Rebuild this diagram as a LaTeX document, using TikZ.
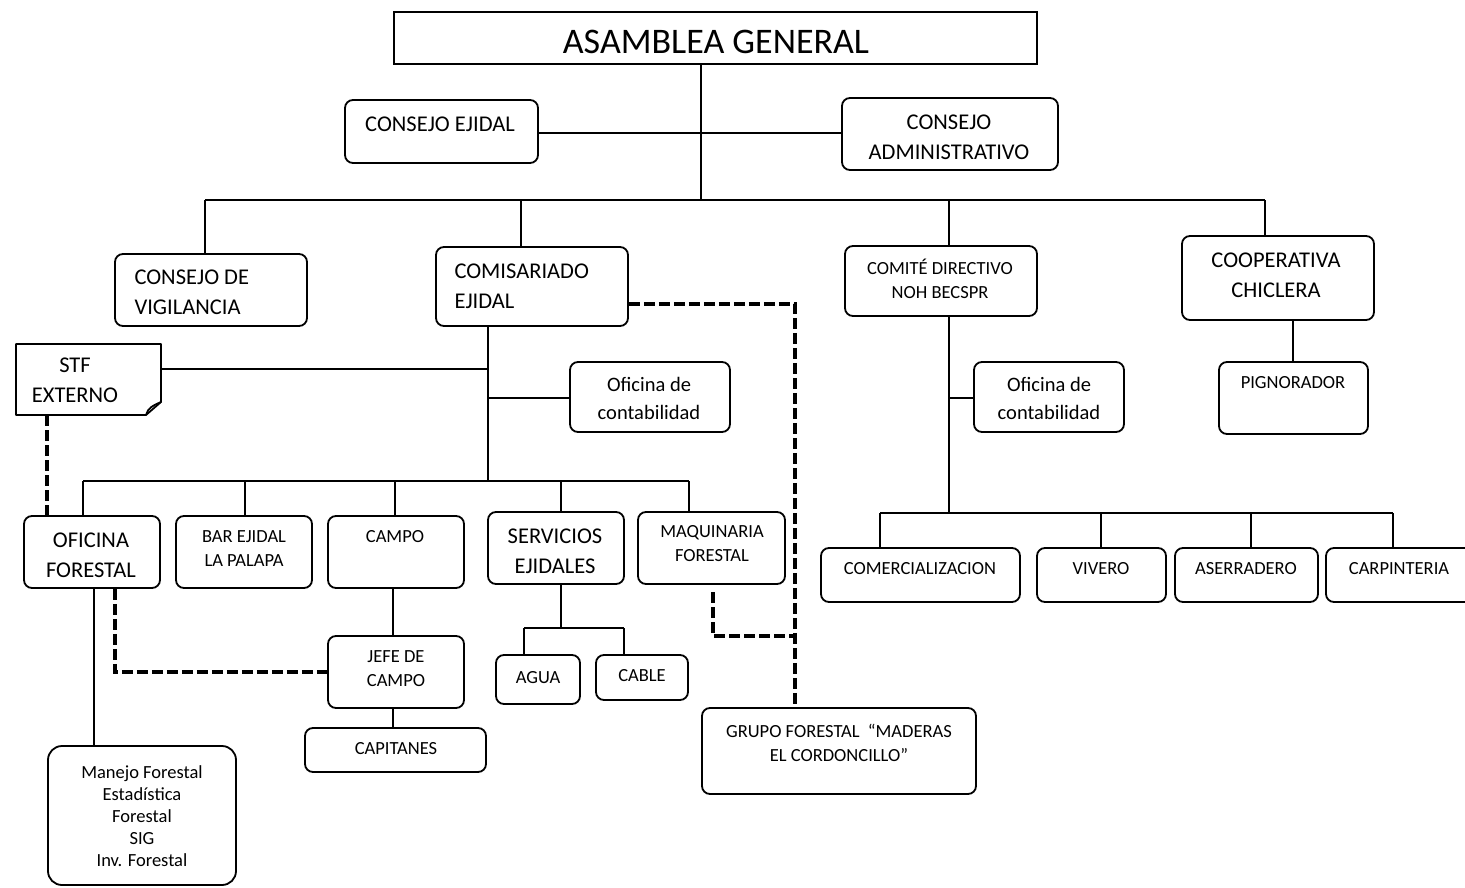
\documentclass[tikz,border=0pt]{standalone}
\usepackage{fontspec}
\setmainfont{Carlito}
\usetikzlibrary{fit}
\begin{document}
\begin{tikzpicture}[x=1pt,y=-1pt,
  box/.style={draw, line width=1.8pt, rounded corners=8pt, inner sep=0pt},
  sqbox/.style={draw, line width=1.8pt, inner sep=0pt},
  ln/.style={line width=1.8pt},
  dsh/.style={line width=3.4pt, dash pattern=on 11pt off 4pt},
  big/.style={font=\fontsize{36}{40}\selectfont},
  med/.style={font=\fontsize{22.5}{30}\selectfont, align=center},
  sml/.style={font=\fontsize{18.5}{24}\selectfont, align=center},
  ofi/.style={font=\fontsize{20.5}{28}\selectfont, align=center},
  tiny/.style={font=\fontsize{18.5}{22}\selectfont, align=center}]
\useasboundingbox (0,0) rectangle (1465,888);
\fill[white] (0,0) rectangle (1465,888);

% ---------- boxes ----------
\node[sqbox, fit={(394,12) (1037,64)}] (ag) {};
\node[box, fit={(345,100) (538,163)}] (ce) {};
\node[box, fit={(842,98) (1058,170)}] (ca) {};
\node[box, fit={(115,254) (307,326)}] (cv) {};
\node[box, fit={(436,247) (628,326)}] (com) {};
\node[box, fit={(845,246) (1037,316)}] (cd) {};
\node[box, fit={(1182,236) (1374,320)}] (cop) {};
\node[inner sep=0pt, fit={(16,344) (161,415)}] (stf) {};
\draw[ln, line join=round] (16,344) -- (161,344) -- (161,402) -- (146,415) -- (16,415) -- cycle;
\draw[ln] (146,415) .. controls (148,408) and (152,406) .. (161,402);
\node[box, fit={(570,362) (730,432)}] (oc1) {};
\node[box, fit={(24,516) (160,588)}] (of) {};
\node[box, fit={(176,516) (312,588)}] (bar) {};
\node[box, fit={(328,516) (464,588)}] (cam) {};
\node[box, fit={(488,512) (624,584)}] (ser) {};
\node[box, fit={(638,512) (785,584)}] (maq) {};
\node[box, fit={(328,636) (464,708)}] (jefe) {};
\node[box, fit={(305,728) (486,772)}] (cap) {};
\node[box, fit={(496,655) (580,704)}] (agua) {};
\node[box, fit={(596,655) (688,700)}] (cab) {};
\node[box, rounded corners=14pt, fit={(48,746) (236,885)}] (man) {};
\node[box, fit={(702,708) (976,794)}] (gf) {};
\node[box, fit={(974,362) (1124,432)}] (oc2) {};
\node[box, fit={(1219,362) (1368,434)}] (pig) {};
\node[box, fit={(821,548) (1020,602)}] (comr) {};
\node[box, fit={(1037,548) (1166,602)}] (viv) {};
\node[box, fit={(1175,548) (1318,602)}] (ase) {};
\node[box, fit={(1326,548) (1480,602)}] (car) {};

% ---------- texts ----------
\node[big] (agT) at (716,42) {ASAMBLEA GENERAL};
\node[med] (ceT) at (440,124) {CONSEJO EJIDAL};
\node[med] (caT) at (949,137) {CONSEJO\\ADMINISTRATIVO};
\node[med, align=left, anchor=west] (cvT) at (131,292) {CONSEJO DE\\VIGILANCIA};
\node[med, align=left, anchor=west] (comT) at (451,286) {COMISARIADO\\EJIDAL};
\node[sml] (cdT) at (940,279) {COMITÉ DIRECTIVO\\NOH BECSPR};
\node[med] (copT) at (1276,275) {COOPERATIVA\\CHICLERA};
\node[med] (stfT) at (75,380) {STF\\EXTERNO};
\node[ofi] (oc1T) at (649,398) {Oficina de\\contabilidad};
\node[med] (ofT) at (91,555) {OFICINA\\FORESTAL};
\node[sml] (barT) at (244,549) {BAR EJIDAL\\LA PALAPA};
\node[sml] (camT) at (395,537) {CAMPO};
\node[med] (serT) at (555,551) {SERVICIOS\\EJIDALES};
\node[sml] (maqT) at (712,544) {MAQUINARIA\\FORESTAL};
\node[sml] (jefeT) at (396,669) {JEFE DE\\CAMPO};
\node[sml] (capT) at (396,749) {CAPITANES};
\node[sml] (aguaT) at (538,678) {AGUA};
\node[sml] (cabT) at (642,676) {CABLE};
\node[tiny] (manT) at (142,816) {Manejo Forestal\\Estadística\\Forestal\\SIG\\Inv. Forestal};
\node[sml] (gfT) at (839,743) {GRUPO FORESTAL \ “MADERAS\\EL CORDONCILLO”};
\node[ofi] (oc2T) at (1049,398) {Oficina de\\contabilidad};
\node[sml] (pigT) at (1293,383) {PIGNORADOR};
\node[sml] (comrT) at (920,569) {COMERCIALIZACION};
\node[sml] (vivT) at (1101,569) {VIVERO};
\node[sml] (aseT) at (1246,569) {ASERRADERO};
\node[sml] (carT) at (1399,569) {CARPINTERIA};

% ---------- coordinates ----------
\coordinate (x1) at (701,200);
\coordinate (b1L) at (205,200);
\coordinate (b1R) at (1265,200);
\coordinate (xCom) at (521,200);
\coordinate (xCd) at (949,200);
\coordinate (t2) at (488,481);
\coordinate (b2L) at (83,481);
\coordinate (b2R) at (689,481);
\coordinate (xBar) at (245,481);
\coordinate (xCam) at (395,481);
\coordinate (xSer) at (561,481);
\coordinate (yStf) at (488,369);
\coordinate (yOc1) at (488,398);
\coordinate (b3) at (561,628);
\coordinate (b3L) at (524,628);
\coordinate (b3R) at (624,628);
\coordinate (xJ) at (393,600);
\coordinate (t4) at (949,513);
\coordinate (b4L) at (880,513);
\coordinate (b4R) at (1393,513);
\coordinate (xViv) at (1101,513);
\coordinate (xAse) at (1251,513);
\coordinate (yOc2) at (949,398);
\coordinate (xPig) at (1293,340);
\coordinate (xMan) at (94,600);
\coordinate (dStf) at (47,430);
\coordinate (dOf) at (115,600);
\coordinate (dJ) at (115,672);
\coordinate (dC1) at (795,304);
\coordinate (dC2) at (795,636);
\coordinate (dM1) at (713,592);
\coordinate (dM2) at (713,636);

% ---------- solid connectors ----------
\draw[ln] (x1 |- ag.south) -- (x1);
\draw[ln] (ce.east |- 0,133) -- (ca.west |- 0,133);
\draw[ln] (b1L) -- (b1R);
\draw[ln] (b1L) -- (b1L |- cv.north);
\draw[ln] (xCom) -- (xCom |- com.north);
\draw[ln] (xCd) -- (xCd |- cd.north);
\draw[ln] (b1R) -- (b1R |- cop.north);
\draw[ln] (t2 |- com.south) -- (t2);
\draw[ln] (stf.east |- yStf) -- (yStf);
\draw[ln] (yOc1) -- (yOc1 -| oc1.west);
\draw[ln] (b2L) -- (b2R);
\draw[ln] (b2L) -- (b2L |- of.north);
\draw[ln] (xBar) -- (xBar |- bar.north);
\draw[ln] (xCam) -- (xCam |- cam.north);
\draw[ln] (xSer) -- (xSer |- ser.north);
\draw[ln] (b2R) -- (b2R |- maq.north);
\draw[ln] (xJ |- cam.south) -- (xJ |- jefe.north);
\draw[ln] (xJ |- jefe.south) -- (xJ |- cap.north);
\draw[ln] (b3 |- ser.south) -- (b3);
\draw[ln] (b3L) -- (b3R);
\draw[ln] (b3L) -- (b3L |- agua.north);
\draw[ln] (b3R) -- (b3R |- cab.north);
\draw[ln] (xMan |- of.south) -- (xMan |- man.north);
\draw[ln] (t4 |- cd.south) -- (t4);
\draw[ln] (yOc2) -- (yOc2 -| oc2.west);
\draw[ln] (b4L) -- (b4R);
\draw[ln] (b4L) -- (b4L |- comr.north);
\draw[ln] (xViv) -- (xViv |- viv.north);
\draw[ln] (xAse) -- (xAse |- ase.north);
\draw[ln] (b4R) -- (b4R |- car.north);
\draw[ln] (xPig |- cop.south) -- (xPig |- pig.north);

% ---------- dashed connectors ----------
\draw[dsh] (dStf |- stf.south) -- (dStf |- of.north);
\draw[dsh] (dOf |- of.south) -- (dJ) -- (dJ -| jefe.west);
\draw[dsh] (com.east |- dC1) -- (dC1) -- (dC1 |- gf.north);
\draw[dsh] (dM1) -- (dM2) -- (dC2);
\end{tikzpicture}
\end{document}
